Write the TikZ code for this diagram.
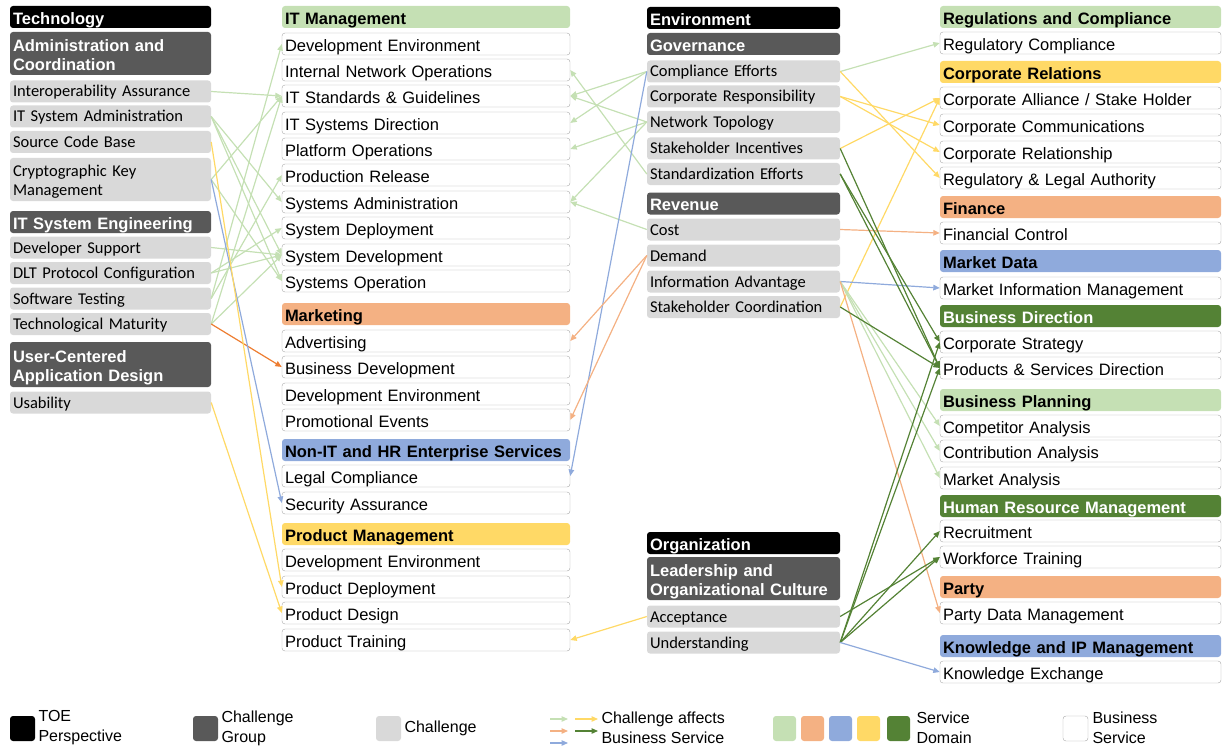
\documentclass[tikz,border=0pt]{standalone}
\usepackage{fontspec}
\setmainfont{Liberation Sans}
\newfontfamily\chalfont{Carlito}
\usepackage{xcolor}
\usepackage{tikz}
\usetikzlibrary{arrows.meta}
\definecolor{groupgray}{RGB}{89,89,89}
\definecolor{challengegray}{RGB}{217,217,217}
\definecolor{serviceborder}{RGB}{170,170,170}
\definecolor{domaingreen}{RGB}{197,224,180}
\definecolor{domainorange}{RGB}{244,177,131}
\definecolor{domainblue}{RGB}{143,170,220}
\definecolor{domainyellow}{RGB}{255,217,102}
\definecolor{domaindark}{RGB}{84,130,53}
\definecolor{strongorange}{RGB}{237,125,49}
\newcommand{\boxfont}{\fontsize{16.5}{19}\selectfont}

\begin{document}
\begin{tikzpicture}[
    x=1pt, y=-1pt,
    cell/.style={rounded corners=3pt, inner xsep=3pt, inner ysep=0pt, minimum height=22pt, align=left},
    colA/.style={cell, text width=195pt},
    colB/.style={cell, text width=282pt},
    colC/.style={cell, text width=187pt},
    colD/.style={cell, text width=275pt},
    twoline/.style={minimum height=43pt, text depth=22.5pt},
    persp/.style={fill=black, text=white, font=\boxfont\bfseries, text height=18pt, text depth=3.5pt},
    grp/.style={fill=groupgray, text=white, font=\boxfont\bfseries, text height=18pt, text depth=3.5pt},
    chal/.style={fill=challengegray, font=\fontsize{16.5}{19}\selectfont\chalfont, text height=16pt, text depth=5pt},
    dom/.style={fill=#1, font=\boxfont\bfseries, text height=18pt, text depth=3.5pt},
    serv/.style={draw=serviceborder, fill=white, font=\boxfont, text height=18pt, text depth=3.5pt},
    affects/.style={draw=#1, line width=1.2pt, -{Triangle[length=6.5pt,width=5.5pt]}},
    legtext/.style={anchor=west, align=left, font=\fontsize{16}{20}\selectfont}
]
    \useasboundingbox (0,0) rectangle (1222,746);

    % Technology challenges
    \node[persp, colA] (tech) at (110.5,17) {Technology};
    \node[grp, colA, twoline] (admin) at (110.5,53.5) {Administration and\\Coordination};
    \node[chal, colA] (interop) at (110.5,91.5) {Interoperability Assurance};
    \node[chal, colA] (itsysadm) at (110.5,116.5) {IT System Administration};
    \node[chal, colA] (srccode) at (110.5,142) {Source Code Base};
    \node[chal, colA, twoline, text height=17.5pt] (crypto) at (110.5,179.5) {Cryptographic Key\\Management};
    \node[grp, colA] (itse) at (110.5,222) {IT System Engineering};
    \node[chal, colA] (devsup) at (110.5,247.5) {Developer Support};
    \node[chal, colA] (dlt) at (110.5,273) {DLT Protocol Configuration};
    \node[chal, colA] (swtest) at (110.5,298.5) {Software Testing};
    \node[chal, colA] (techmat) at (110.5,324) {Technological Maturity};
    \node[grp, colA, twoline, minimum height=45pt] (ucad) at (110.5,364.5) {User-Centered\\Application Design};
    \node[chal, colA] (usab) at (110.5,402.5) {Usability};

    % Business services, left
    \node[dom=domaingreen, colB] (itm) at (426,17) {IT Management};
    \node[serv, colB] (devenvA) at (426,44) {Development Environment};
    \node[serv, colB] (intnet) at (426,70) {Internal Network Operations};
    \node[serv, colB] (itstd) at (426,96) {IT Standards \& Guidelines};
    \node[serv, colB] (itdir) at (426,123) {IT Systems Direction};
    \node[serv, colB] (platops) at (426,149) {Platform Operations};
    \node[serv, colB] (prodrel) at (426,175) {Production Release};
    \node[serv, colB] (sysadm) at (426,202) {Systems Administration};
    \node[serv, colB] (sysdep) at (426,228) {System Deployment};
    \node[serv, colB] (sysdev) at (426,255) {System Development};
    \node[serv, colB] (sysop) at (426,281) {Systems Operation};
    \node[dom=domainorange, colB] (mkt) at (426,314) {Marketing};
    \node[serv, colB] (adv) at (426,341) {Advertising};
    \node[serv, colB] (busdev) at (426,367) {Business Development};
    \node[serv, colB] (devenvB) at (426,394) {Development Environment};
    \node[serv, colB] (promo) at (426,420) {Promotional Events};
    \node[dom=domainblue, colB] (nonit) at (426,450) {Non-IT and HR Enterprise Services};
    \node[serv, colB] (legal) at (426,476) {Legal Compliance};
    \node[serv, colB] (secass) at (426,503) {Security Assurance};
    \node[dom=domainyellow, colB] (pm) at (426,534) {Product Management};
    \node[serv, colB] (devenvC) at (426,560) {Development Environment};
    \node[serv, colB] (proddep) at (426,587) {Product Deployment};
    \node[serv, colB] (proddes) at (426,613) {Product Design};
    \node[serv, colB] (prodtrain) at (426,640) {Product Training};

    % Environment and organization challenges
    \node[persp, colC] (env) at (743.5,18) {Environment};
    \node[grp, colC] (gov) at (743.5,44) {Governance};
    \node[chal, colC] (compl) at (743.5,71.5) {Compliance Efforts};
    \node[chal, colC] (corpresp) at (743.5,96.5) {Corporate Responsibility};
    \node[chal, colC] (nettop) at (743.5,122) {Network Topology};
    \node[chal, colC] (stinc) at (743.5,148.5) {Stakeholder Incentives};
    \node[chal, colC] (stdeff) at (743.5,174) {Standardization Efforts};
    \node[grp, colC] (rev) at (743.5,203.5) {Revenue};
    \node[chal, colC] (cost) at (743.5,229.5) {Cost};
    \node[chal, colC] (demand) at (743.5,255.5) {Demand};
    \node[chal, colC] (infoadv) at (743.5,281.5) {Information Advantage};
    \node[chal, colC] (stcoord) at (743.5,307) {Stakeholder Coordination};
    \node[persp, colC] (org) at (743.5,543) {Organization};
    \node[grp, colC, twoline] (lead) at (743.5,578.5) {Leadership and\\Organizational Culture};
    \node[chal, colC] (accept) at (743.5,616.5) {Acceptance};
    \node[chal, colC] (underst) at (743.5,642.5) {Understanding};

    % Business services, right
    \node[dom=domaingreen, colD] (regc) at (1080.5,17) {Regulations and Compliance};
    \node[serv, colD] (regcomp) at (1080.5,43) {Regulatory Compliance};
    \node[dom=domainyellow, colD] (corprel) at (1080.5,72) {Corporate Relations};
    \node[serv, colD] (corpall) at (1080.5,98) {Corporate Alliance / Stake Holder};
    \node[serv, colD] (corpcomm) at (1080.5,125) {Corporate Communications};
    \node[serv, colD] (corpship) at (1080.5,152) {Corporate Relationship};
    \node[serv, colD] (reglegal) at (1080.5,178) {Regulatory \& Legal Authority};
    \node[dom=domainorange, colD] (fin) at (1080.5,207) {Finance};
    \node[serv, colD] (finctrl) at (1080.5,233) {Financial Control};
    \node[dom=domainblue, colD] (mdata) at (1080.5,261) {Market Data};
    \node[serv, colD] (mim) at (1080.5,288) {Market Information Management};
    \node[dom=domaindark, text=white, colD] (bdir) at (1080.5,316) {Business Direction};
    \node[serv, colD] (corpstrat) at (1080.5,342) {Corporate Strategy};
    \node[serv, colD] (psdir) at (1080.5,368) {Products \& Services Direction};
    \node[dom=domaingreen, colD] (bplan) at (1080.5,400) {Business Planning};
    \node[serv, colD] (compan) at (1080.5,426) {Competitor Analysis};
    \node[serv, colD] (contran) at (1080.5,451) {Contribution Analysis};
    \node[serv, colD] (mktan) at (1080.5,478) {Market Analysis};
    \node[dom=domaindark, text=white, colD] (hrm) at (1080.5,506) {Human Resource Management};
    \node[serv, colD] (recruit) at (1080.5,531) {Recruitment};
    \node[serv, colD] (wftrain) at (1080.5,557) {Workforce Training};
    \node[dom=domainorange, colD] (party) at (1080.5,587) {Party};
    \node[serv, colD] (partydm) at (1080.5,613) {Party Data Management};
    \node[dom=domainblue, colD] (kipm) at (1080.5,646) {Knowledge and IP Management};
    \node[serv, colD] (kex) at (1080.5,672) {Knowledge Exchange};

    % Technology -> services
    \draw[affects=domaingreen] (interop.east) -- (itstd.west);
    \draw[affects=domaingreen] (itsysadm.east) -- (sysadm.west);
    \draw[affects=domaingreen] (itsysadm.east) -- (sysdev.west);
    \draw[affects=domaingreen] (itsysadm.east) -- (sysop.west);
    \draw[affects=domaingreen] (crypto.east) -- (itstd.west);
    \draw[affects=domaingreen] (crypto.east) -- (sysop.west);
    \draw[affects=domaingreen] (devsup.east) -- (sysdev.west);
    \draw[affects=domaingreen] (dlt.east) -- (sysdep.west);
    \draw[affects=domaingreen] (dlt.east) -- (sysdev.west);
    \draw[affects=domaingreen] (swtest.east) -- (prodrel.west);
    \draw[affects=domaingreen] (swtest.east) -- (devenvA.west);
    \draw[affects=domaingreen] (techmat.east) -- (itstd.west);
    \draw[affects=domaingreen] (techmat.east) -- (sysdev.west);
    \draw[affects=strongorange] (techmat.east) -- (busdev.west);
    \draw[affects=domainblue] (crypto.east) -- (secass.west);
    \draw[affects=domainyellow] (srccode.east) -- (proddep.west);
    \draw[affects=domainyellow] (usab.east) -- (proddes.west);

    % Environment -> left services
    \draw[affects=domaingreen] (compl.west) -- (itstd.east);
    \draw[affects=domaingreen] (compl.west) -- (itdir.east);
    \draw[affects=domaingreen] (nettop.west) -- (itstd.east);
    \draw[affects=domaingreen] (nettop.west) -- (platops.east);
    \draw[affects=domaingreen] (nettop.west) -- (sysadm.east);
    \draw[affects=domaingreen] (stdeff.west) -- (intnet.east);
    \draw[affects=domaingreen] (cost.west) -- (sysadm.east);
    \draw[affects=domainblue] (compl.west) -- (legal.east);
    \draw[affects=domainorange] (demand.west) -- (adv.east);
    \draw[affects=domainorange] (demand.west) -- (promo.east);
    \draw[affects=domainyellow] (accept.west) -- (prodtrain.east);

    % Environment and organization -> right services
    \draw[affects=domaingreen] (compl.east) -- (regcomp.west);
    \draw[affects=domainyellow] (compl.east) -- (reglegal.west);
    \draw[affects=domainyellow] (corpresp.east) -- (corpcomm.west);
    \draw[affects=domainyellow] (corpresp.east) -- (corpship.west);
    \draw[affects=domainyellow] (stinc.east) -- (corpall.west);
    \draw[affects=domainyellow] (stcoord.east) -- (corpall.west);
    \draw[affects=domainorange] (cost.east) -- (finctrl.west);
    \draw[affects=domainblue] (infoadv.east) -- (mim.west);
    \draw[affects=domaingreen] (infoadv.east) -- (compan.west);
    \draw[affects=domaingreen] (infoadv.east) -- (contran.west);
    \draw[affects=domaingreen] (infoadv.east) -- (mktan.west);
    \draw[affects=domainorange] (infoadv.east) -- (partydm.west);
    \draw[affects=domaindark] (stinc.east) -- (psdir.west);
    \draw[affects=domaindark] (stdeff.east) -- (corpstrat.west);
    \draw[affects=domaindark] (stdeff.east) -- (psdir.west);
    \draw[affects=domaindark] (stcoord.east) -- (psdir.west);
    \draw[affects=domaindark] (accept.east) -- (wftrain.west);
    \draw[affects=domaindark] (underst.east) -- (recruit.west);
    \draw[affects=domaindark] (underst.east) -- (wftrain.west);
    \draw[affects=domaindark] (underst.east) -- (corpstrat.west);
    \draw[affects=domaindark] (underst.east) -- (psdir.west);
    \draw[affects=domainblue] (underst.east) -- (kex.west);

    % Legend
    \node[fill=black, rounded corners=3pt, minimum size=25pt] (lgtoe) at (22.5,728.5) {};
    \node[legtext] at (35,728) {TOE\\Perspective};
    \node[fill=groupgray, rounded corners=3pt, minimum size=25pt] (lggrp) at (205.5,728.5) {};
    \node[legtext] at (218,728) {Challenge\\Group};
    \node[fill=challengegray, rounded corners=3pt, minimum size=25pt] (lgchal) at (388.5,728.5) {};
    \node[legtext] at (401,728) {Challenge};
    \coordinate (lgga) at (550,719); \coordinate (lggb) at (568,719);
    \coordinate (lgya) at (575,719); \coordinate (lgyb) at (598,719);
    \coordinate (lgoa) at (550,731); \coordinate (lgob) at (568,731);
    \coordinate (lgda) at (575,731); \coordinate (lgdb) at (598,731);
    \coordinate (lgba) at (550,743); \coordinate (lgbb) at (568,743);
    \draw[affects=domaingreen] (lgga) -- (lggb);
    \draw[affects=domainyellow] (lgya) -- (lgyb);
    \draw[affects=domainorange] (lgoa) -- (lgob);
    \draw[affects=domaindark] (lgda) -- (lgdb);
    \draw[affects=domainblue] (lgba) -- (lgbb);
    \node[legtext] at (598,728) {Challenge affects\\Business Service};
    \node[fill=domaingreen, rounded corners=3pt, minimum width=23pt, minimum height=25pt] (lgc1) at (784.5,728.5) {};
    \node[fill=domainorange, rounded corners=3pt, minimum width=23pt, minimum height=25pt] (lgc2) at (812.5,728.5) {};
    \node[fill=domainblue, rounded corners=3pt, minimum width=23pt, minimum height=25pt] (lgc3) at (840.5,728.5) {};
    \node[fill=domainyellow, rounded corners=3pt, minimum width=23pt, minimum height=25pt] (lgc4) at (868.5,728.5) {};
    \node[fill=domaindark, rounded corners=3pt, minimum width=23pt, minimum height=25pt] (lgc5) at (898.5,728.5) {};
    \node[legtext] at (913,728) {Service\\Domain};
    \node[draw=serviceborder, fill=white, rounded corners=3pt, minimum size=25pt] (lgserv) at (1075.5,728.5) {};
    \node[legtext] at (1089,728) {Business\\Service};
\end{tikzpicture}
\end{document}
